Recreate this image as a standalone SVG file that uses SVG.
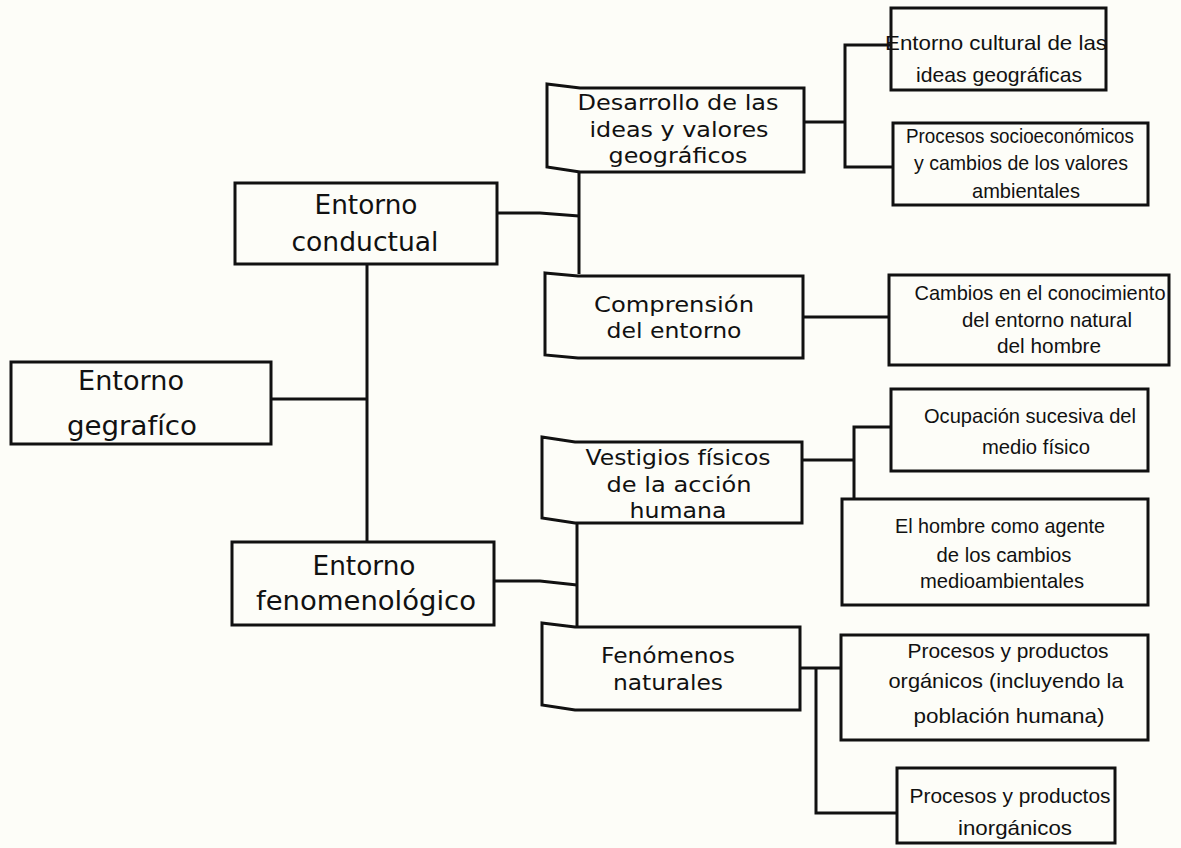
<svg xmlns="http://www.w3.org/2000/svg" width="1181" height="848" viewBox="0 0 1181 848">
<style>
.bx{fill:none;stroke:#111;stroke-width:3;stroke-linejoin:miter}
.ln{fill:none;stroke:#111;stroke-width:3}
.big{font-family:"DejaVu Sans","Liberation Sans",sans-serif;font-size:26px;fill:#111;text-anchor:middle}
.med{font-family:"DejaVu Sans","Liberation Sans",sans-serif;font-size:22px;fill:#111;text-anchor:middle}
.sm{font-family:"Liberation Sans Narrow","Liberation Sans",sans-serif;font-size:21px;fill:#111;text-anchor:middle}
</style>
<rect width="1181" height="848" fill="#fdfdf8"/>
<g id="connectors">
<path class="ln" d="M271,399 H367"/>
<path class="ln" d="M367,264 V542"/>
<path class="ln" d="M497,213 L540,213 L579,216"/>
<path class="ln" d="M579,171 V274"/>
<path class="ln" d="M494,581 L540,581 L577,585"/>
<path class="ln" d="M577,522 V626"/>
<path class="ln" d="M804,122 H845"/>
<path class="ln" d="M891,45 H845 V167 H893"/>
<path class="ln" d="M803,317 H889"/>
<path class="ln" d="M802,460 H854"/>
<path class="ln" d="M891,427 H854 V499"/>
<path class="ln" d="M800,668 H841"/>
<path class="ln" d="M816,668 V813 H897"/>
</g>
<g id="n_gegrafico">
<rect class="bx" x="11" y="362" width="260" height="82"/>
<text class="big" x="131" y="390" textLength="106" lengthAdjust="spacingAndGlyphs">Entorno</text>
<text class="big" x="132" y="435" textLength="130" lengthAdjust="spacingAndGlyphs">gegrafíco</text>
</g>
<g id="n_conductual">
<rect class="bx" x="235" y="183" width="262" height="81"/>
<text class="big" x="366" y="214" textLength="103" lengthAdjust="spacingAndGlyphs">Entorno</text>
<text class="big" x="365" y="251" textLength="147" lengthAdjust="spacingAndGlyphs">conductual</text>
</g>
<g id="n_fenomenologico">
<rect class="bx" x="232" y="542" width="262" height="83"/>
<text class="big" x="364" y="575" textLength="103" lengthAdjust="spacingAndGlyphs">Entorno</text>
<text class="big" x="366" y="610" textLength="220" lengthAdjust="spacingAndGlyphs">fenomenológico</text>
</g>
<g id="n_desarrollo">
<path class="bx" d="M547,84 L580,88 H804 V172 H580 L547,167 Z"/>
<text class="med" x="678" y="110" textLength="201" lengthAdjust="spacingAndGlyphs">Desarrollo de las</text>
<text class="med" x="679" y="137" textLength="179" lengthAdjust="spacingAndGlyphs">ideas y valores</text>
<text class="med" x="678" y="163" textLength="139" lengthAdjust="spacingAndGlyphs">geográficos</text>
</g>
<g id="n_comprension">
<path class="bx" d="M545,273 L578,276 H803 V358 H578 L545,355 Z"/>
<text class="med" x="674" y="312" textLength="160" lengthAdjust="spacingAndGlyphs">Comprensión</text>
<text class="med" x="674" y="338" textLength="135" lengthAdjust="spacingAndGlyphs">del entorno</text>
</g>
<g id="n_vestigios">
<path class="bx" d="M542,437 L575,442 H802 V523 H575 L542,518 Z"/>
<text class="med" x="678" y="465" textLength="185" lengthAdjust="spacingAndGlyphs">Vestigios físicos</text>
<text class="med" x="679" y="492" textLength="145" lengthAdjust="spacingAndGlyphs">de la acción</text>
<text class="med" x="678" y="518" textLength="97" lengthAdjust="spacingAndGlyphs">humana</text>
</g>
<g id="n_fenomenos">
<path class="bx" d="M542,623 L575,627 H800 V710 H575 L542,705 Z"/>
<text class="med" x="668" y="663" textLength="134" lengthAdjust="spacingAndGlyphs">Fenómenos</text>
<text class="med" x="668" y="690" textLength="110" lengthAdjust="spacingAndGlyphs">naturales</text>
</g>
<g id="n_cultural">
<rect class="bx" x="891" y="8" width="215" height="82"/>
<text class="sm" x="996" y="50" textLength="222" lengthAdjust="spacingAndGlyphs">Entorno cultural de las</text>
<text class="sm" x="999" y="82" textLength="166" lengthAdjust="spacingAndGlyphs">ideas geográficas</text>
</g>
<g id="n_socio">
<rect class="bx" x="893" y="123" width="255" height="82"/>
<text class="sm" x="1020" y="143" textLength="228" lengthAdjust="spacingAndGlyphs">Procesos socioeconómicos</text>
<text class="sm" x="1021" y="170" textLength="214" lengthAdjust="spacingAndGlyphs">y cambios de los valores</text>
<text class="sm" x="1026" y="198" textLength="108" lengthAdjust="spacingAndGlyphs">ambientales</text>
</g>
<g id="n_cambios">
<rect class="bx" x="889" y="275" width="280" height="90"/>
<text class="sm" x="1040" y="300" textLength="251" lengthAdjust="spacingAndGlyphs">Cambios en el conocimiento</text>
<text class="sm" x="1047" y="327" textLength="170" lengthAdjust="spacingAndGlyphs">del entorno natural</text>
<text class="sm" x="1049" y="353" textLength="104" lengthAdjust="spacingAndGlyphs">del hombre</text>
</g>
<g id="n_ocupacion">
<rect class="bx" x="891" y="389" width="257" height="82"/>
<text class="sm" x="1030" y="423" textLength="212" lengthAdjust="spacingAndGlyphs">Ocupación sucesiva del</text>
<text class="sm" x="1036" y="454" textLength="108" lengthAdjust="spacingAndGlyphs">medio físico</text>
</g>
<g id="n_hombre">
<rect class="bx" x="842" y="499" width="306" height="106"/>
<text class="sm" x="1000" y="533" textLength="210" lengthAdjust="spacingAndGlyphs">El hombre como agente</text>
<text class="sm" x="1004" y="562" textLength="135" lengthAdjust="spacingAndGlyphs">de los cambios</text>
<text class="sm" x="1002" y="588" textLength="164" lengthAdjust="spacingAndGlyphs">medioambientales</text>
</g>
<g id="n_organicos">
<rect class="bx" x="841" y="635" width="307" height="105"/>
<text class="sm" x="1008" y="658" textLength="201" lengthAdjust="spacingAndGlyphs">Procesos y productos</text>
<text class="sm" x="1006" y="688" textLength="235" lengthAdjust="spacingAndGlyphs">orgánicos (incluyendo la</text>
<text class="sm" x="1009" y="723" textLength="191" lengthAdjust="spacingAndGlyphs">población humana)</text>
</g>
<g id="n_inorganicos">
<rect class="bx" x="897" y="768" width="218" height="75"/>
<text class="sm" x="1010" y="803" textLength="201" lengthAdjust="spacingAndGlyphs">Procesos y productos</text>
<text class="sm" x="1015" y="835" textLength="114" lengthAdjust="spacingAndGlyphs">inorgánicos</text>
</g>
</svg>
